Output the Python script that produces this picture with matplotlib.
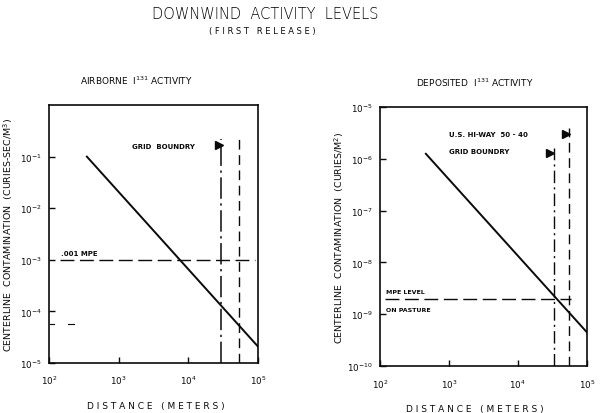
import numpy as np
import matplotlib
matplotlib.use("Agg")
import matplotlib.pyplot as plt

# airborne I-131 (curies-sec/m^3) vs distance (m)
air_dist = [350, 1e5]
air_conc = [1e-1, 2.1e-5]
air_mpe = 1e-3
air_mpe_span = [145, 9e4]
air_grid_x = 3.0e4
air_second_x = 5.4e4
air_lines_top = 0.22

# deposited I-131 (curies/m^2) vs distance (m)
dep_dist = [465, 1e5]
dep_conc = [1.25e-6, 4.5e-10]
dep_mpe = 2e-9
dep_mpe_span = [118, 6.0e4]
dep_grid_x = 3.3e4
dep_grid_top = 1.6e-6
dep_hiway_x = 5.5e4
dep_hiway_top = 3.9e-6

x_ticks = [1e2, 1e3, 1e4, 1e5]
x_ticklabels = ['$10^2$', '$10^3$', '$10^4$', '$10^5$']
air_yticks = [1e-5, 1e-4, 1e-3, 1e-2, 1e-1]
air_ylabels = ['$10^{-5}$', '$10^{-4}$', '$10^{-3}$', '$10^{-2}$', '$10^{-1}$']
dep_yticks = [1e-10, 1e-9, 1e-8, 1e-7, 1e-6, 1e-5]
dep_ylabels = ['$10^{-10}$', '$10^{-9}$', '$10^{-8}$', '$10^{-7}$', '$10^{-6}$', '$10^{-5}$']

INK = '#0a0a0a'
DASHDOT = (0, (9, 3, 1.5, 3))
DASHED = (0, (7, 4))


def spaced(s):
    return ' '.join(s)


def style_axes(ax, ylim, yticks, ylabels, ylabel, xlab_x):
    ax.set_xscale('log')
    ax.set_yscale('log')
    ax.set_xlim(1e2, 1e5)
    ax.set_ylim(*ylim)
    ax.set_xticks(x_ticks)
    ax.set_xticklabels(x_ticklabels)
    ax.set_yticks(yticks)
    ax.set_yticklabels(ylabels)
    ax.minorticks_off()
    ax.tick_params(direction='in', length=4, width=1, labelsize=6.3, pad=5, colors=INK)
    ax.tick_params(axis='x', pad=8)
    for s in ax.spines.values():
        s.set_linewidth(1.2)
        s.set_color(INK)
    ax.set_xlabel(spaced('DISTANCE') + '   ' + spaced('(METERS)'), fontsize=6.5,
                  color=INK)
    ax.xaxis.set_label_coords(xlab_x, -0.147)
    ax.set_ylabel(ylabel, fontsize=6.8, color=INK)
    ax.yaxis.set_label_coords(-0.165, 0.5)


fig = plt.figure(figsize=(6.0, 4.14), dpi=100)
ax1 = fig.add_axes([0.0817, 0.1208, 0.348, 0.623])
ax2 = fig.add_axes([0.633, 0.1135, 0.345, 0.6256])

# ---- airborne
style_axes(ax1, (1e-5, 1.0), air_yticks, air_ylabels,
           'CENTERLINE  CONTAMINATION  (CURIES-SEC/M$^3$)', 0.51)
ax1.plot(air_dist, air_conc, color=INK, lw=1.4)
ax1.plot(air_mpe_span, [air_mpe, air_mpe], color=INK, lw=1.0, linestyle=(0, (10, 4)))
ax1.text(150, air_mpe * 1.25, '.001 MPE', fontsize=5, fontweight='bold', color=INK)
ax1.plot([air_grid_x, air_grid_x], [1e-5, air_lines_top], color=INK, lw=1.1,
         linestyle=(0, (14, 3, 1.5, 3)))
ax1.plot([air_second_x, air_second_x], [1e-5, air_lines_top], color=INK, lw=1.0,
         linestyle=DASHED)
ax1.plot([air_grid_x * 0.93], [0.165], marker='>', color=INK, markersize=6)
ax1.text(1.55e3, 0.16, 'GRID  BOUNDRY', fontsize=5, fontweight='bold', color=INK,
         va='center')
ax1.plot([102, 118], [5.8e-5, 5.8e-5], color=INK, lw=0.8)
ax1.plot([190, 230], [5.8e-5, 5.8e-5], color=INK, lw=0.8)
ax1.set_title('AIRBORNE  I$^{131}$ ACTIVITY', fontsize=6.5, pad=15, x=0.42, color=INK)

# ---- deposited
style_axes(ax2, (1e-10, 1e-5), dep_yticks, dep_ylabels,
           'CENTERLINE  CONTAMINATION  (CURIES/M$^2$)', 0.46)
ax2.plot(dep_dist, dep_conc, color=INK, lw=1.4)
ax2.plot(dep_mpe_span, [dep_mpe, dep_mpe], color=INK, lw=1.0, linestyle=(0, (10, 4)))
ax2.text(122, dep_mpe * 1.3, 'MPE LEVEL', fontsize=4.5, fontweight='bold', color=INK)
ax2.text(122, dep_mpe / 1.45, 'ON PASTURE', fontsize=4.5, fontweight='bold', color=INK,
         va='top')
ax2.plot([dep_grid_x, dep_grid_x], [1e-10, dep_grid_top], color=INK, lw=1.0,
         linestyle=DASHDOT)
ax2.plot([dep_hiway_x, dep_hiway_x], [1e-10, dep_hiway_top], color=INK, lw=1.0,
         linestyle=DASHED)
ax2.plot([dep_grid_x * 0.9], [1.3e-6], marker='>', color=INK, markersize=6)
ax2.plot([dep_hiway_x * 0.9], [3.0e-6], marker='>', color=INK, markersize=6)
ax2.text(1e3, 3.0e-6, 'U.S. HI-WAY  50 - 40', fontsize=5, fontweight='bold', color=INK,
         va='center')
ax2.text(1e3, 1.4e-6, 'GRID BOUNDRY', fontsize=5, fontweight='bold', color=INK,
         va='center')
ax2.set_title('DEPOSITED  I$^{131}$ ACTIVITY', fontsize=6.5, pad=15, x=0.46, color=INK)

fig.text(0.442, 0.965, 'DOWNWIND  ACTIVITY  LEVELS', fontsize=10.5, ha='center',
         va='center', color='black', fontweight='light')
fig.text(0.437, 0.925, '( ' + spaced('FIRST') + '   ' + spaced('RELEASE') + ' )',
         fontsize=6, ha='center', va='center', color=INK)

fig.savefig('out.png', dpi=100, facecolor='white')
